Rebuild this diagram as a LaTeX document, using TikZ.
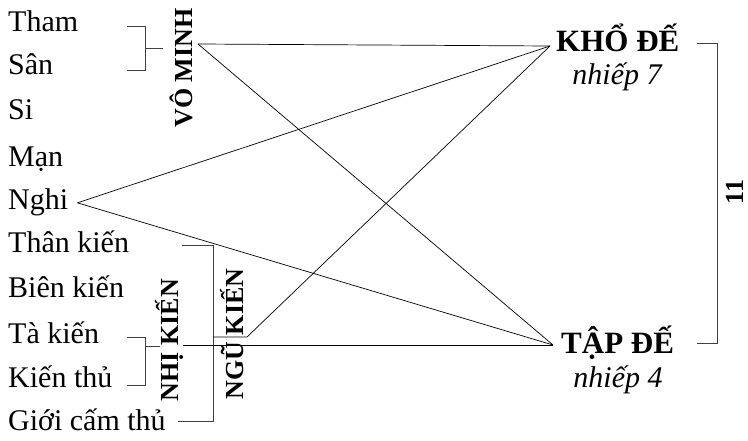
\documentclass[tikz,border=0pt]{standalone}
\usepackage{fontspec}
\setmainfont{Liberation Serif}
\usetikzlibrary{positioning}
\usetikzlibrary{calc}

\begin{document}
\begin{tikzpicture}[x=1pt,y=-1pt]
\tikzstyle{item node}=[anchor=base west,inner sep=0,font=\fontsize{30}{36}\selectfont]
\tikzstyle{de node}=[anchor=base west,inner sep=0,font=\fontsize{31}{36}\selectfont\bfseries]
\tikzstyle{sub node}=[anchor=base,inner sep=0,font=\fontsize{30}{36}\selectfont\itshape]
\tikzset{
  group node/.style = {anchor=base,rotate=90,inner sep=0,font=\fontsize{26}{30}\selectfont\bfseries},
  brack/.style = {draw=black!75,line width=0.8pt},
  link/.style = {draw=black,line width=0.7pt}
}
\useasboundingbox (0,0) rectangle (748,441);

    \node[item node] (tham)   at (8,32)  {Tham};
    \node[item node] (san)    at (8,75)  {Sân};
    \node[item node] (si)     at (8,120) {Si};
    \node[item node] (man)    at (8,167) {Mạn};
    \node[item node] (nghi)   at (8,210) {Nghi};
    \node[item node] (thank)  at (8,253) {Thân kiến};
    \node[item node] (bienk)  at (8,298) {Biên kiến};
    \node[item node] (tak)    at (8,343) {Tà kiến};
    \node[item node] (kienth) at (8,387) {Kiến thủ};
    \node[item node] (gioi)   at (8,430) {Giới cấm thủ};
    %%%%%%%%%%%%%%%%%%%%%%%%%%%%%%%%%%%
    \node[group node] (vominh) at (192,68)  {VÔ MINH};
    \node[group node] (nhikien) at (178,340) {NHỊ KIẾN};
    \node[group node] (ngukien) at (243,334) {NGŨ KIẾN};
    \node[group node] (eleven) at (743,192) {11};
    %%%%%%%%%%%%%%%%%%%%%%%%%%%%%%%%%%%
    \node[de node] (kho) at (556,52)  {KHỔ ĐẾ};
    \node[sub node] (khon) at (617,85) {nhiếp 7};
    \node[de node] (tap) at (561,353) {TẬP ĐẾ};
    \node[sub node] (tapn) at (618,387) {nhiếp 4};
    %%%%%%%%%%%%%%%%%%%%%%%%%%%%%%%%%%%
    \coordinate (kd) at ([xshift=-6pt,yshift=6pt]kho.base west);
    \coordinate (td) at ([xshift=-8pt,yshift=8pt]tap.base west);
    \coordinate (vm) at ([xshift=6pt,yshift=24pt]vominh.base);
    \coordinate (nh) at ([xshift=5pt,yshift=-5pt]nhikien.base);
    \coordinate (nk) at (247,337);
    \coordinate (ng) at ([xshift=9pt]nghi.east);

    % brackets
    \draw[brack] (127,26) -- (145,26) -- (145,70) -- (127,70);
    \draw[brack] (145,48) -- (163,48);
    \draw[brack] (127,337) -- (145,337) -- (145,385) -- (127,385);
    \draw[brack] (145,346) -- (160,346);
    \draw[brack] (182,245) -- (213,245) -- (213,421) -- (178,421);
    \draw[brack] (697,43) -- (717,43) -- (717,343) -- (697,343);

    % links
    \path[link]
        (vm) edge (kd)
        (vm) edge (td)
        (ng) edge (kd)
        (ng) edge (td)
        (nh) edge (td)
;
    \draw[link] (213,337) -- (nk) -- (kd);
\end{tikzpicture}
\end{document}
